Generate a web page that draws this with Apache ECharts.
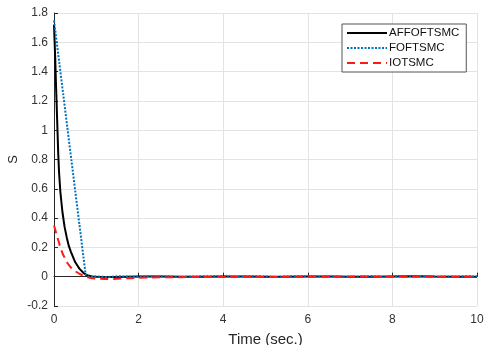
<!DOCTYPE html>
<html>
<head>
<meta charset="utf-8">
<script src="https://cdn.jsdelivr.net/npm/echarts@6/dist/echarts.min.js"></script>
<style>
  html, body { margin: 0; padding: 0; background: #fff; }
  #chart { width: 484px; height: 345px; }
</style>
</head>
<body>
<div id="chart"></div>
<script>
// Sliding variable S over time for three controllers
const seriesNames = ['AFFOFTSMC', 'FOFTSMC', 'IOTSMC'];

const affTime = [0, 0.015, 0.03, 0.045, 0.06, 0.08, 0.1, 0.12, 0.15, 0.2, 0.25, 0.3, 0.35, 0.4, 0.5, 0.6, 0.7, 0.8, 0.9, 1.0,
  1.5, 2.0, 2.5, 3.0, 3.5, 4.0, 4.5, 5.0, 5.5, 6.0, 6.5, 7.0, 7.5, 8.0, 8.5, 9.0, 9.5, 10.0];
const affValues = [1.72, 1.6, 1.48, 1.33, 1.2, 1.02, 0.84, 0.71, 0.58, 0.44, 0.34, 0.27, 0.21, 0.17, 0.1, 0.055, 0.025, 0.008, 0.002, 0.0,
  -0.002, 0.001, 0.002, 0.0, -0.001, 0.002, 0.001, -0.001, 0.0, 0.002, 0.001, -0.001, 0.0, 0.002, 0.003, 0.001, 0.0, 0.0];

const fofTime = [0, 0.75, 0.8, 1.0, 1.25, 1.5, 1.75, 2.0, 2.25, 2.5, 2.75, 3.0, 3.25, 3.5, 3.75, 4.0, 4.25, 4.5, 4.75, 5.0,
  5.25, 5.5, 5.75, 6.0, 6.25, 6.5, 6.75, 7.0, 7.25, 7.5, 7.75, 8.0, 8.25, 8.5, 8.75, 9.0, 9.25, 9.5, 9.75, 10.0];
const fofValues = [1.75, 0.01, 0.0, 0.002, -0.002, 0.003, 0.001, -0.001, 0.004, 0.003, 0.002, -0.002, 0.001, 0.003, 0.002, 0.004, -0.001, 0.002, 0.004, 0.001,
  -0.002, 0.002, 0.003, 0.004, -0.001, 0.002, 0.001, -0.003, 0.002, 0.004, -0.001, 0.002, 0.005, 0.004, 0.003, -0.001, 0.002, 0.001, 0.003, 0.001];

const iotTime = [0, 0.05, 0.1, 0.15, 0.2, 0.25, 0.3, 0.35, 0.4, 0.5, 0.6, 0.7, 0.8, 0.9, 1.0, 1.2, 1.4, 1.6, 1.8, 2.0,
  2.5, 3.0, 3.5, 4.0, 4.5, 5.0, 5.5, 6.0, 6.5, 7.0, 7.5, 8.0, 8.5, 9.0, 9.5, 10.0];
const iotValues = [0.35, 0.3, 0.25, 0.2, 0.16, 0.13, 0.1, 0.08, 0.062, 0.038, 0.02, 0.006, -0.004, -0.01, -0.013, -0.015, -0.015, -0.013, -0.01, -0.007,
  -0.004, -0.003, -0.002, -0.002, -0.001, -0.002, -0.001, 0.0, -0.001, 0.001, 0.0, -0.001, 0.001, 0.0, -0.001, 0.0];

const xTicks = { min: 0, max: 10, interval: 2 };
const yTicks = { min: -0.2, max: 1.8, interval: 0.2 };

const pairs = (ts, vs) => ts.map((t, i) => [t, vs[i]]);

const axisColor = '#262626';
const gridColor = '#e3e3e3';
const font = 'Liberation Sans, Arial, Helvetica, sans-serif';

const chart = echarts.init(document.getElementById('chart'), null, { renderer: 'canvas' });
chart.setOption({
  animation: false,
  backgroundColor: '#fff',
  grid: { left: 54, right: 7, top: 13, bottom: 39, containLabel: false, outerBoundsMode: 'none' },
  legend: {
    orient: 'vertical',
    left: 342,
    top: 24,
    itemWidth: 40,
    itemHeight: 10,
    itemGap: 3,
    padding: [3, 7, 3, 4],
    backgroundColor: '#fff',
    borderColor: '#555',
    borderWidth: 1,
    itemStyle: { opacity: 0 },
    textStyle: { fontFamily: font, fontSize: 11.5, color: '#111', padding: [0, 0, 0, -3] },
    data: seriesNames
  },
  xAxis: {
    type: 'value',
    min: xTicks.min, max: xTicks.max, interval: xTicks.interval,
    name: 'Time (sec.)',
    nameLocation: 'middle',
    nameGap: 26,
    nameTextStyle: { fontFamily: font, fontSize: 15, color: axisColor },
    axisLine: { lineStyle: { color: axisColor, width: 1 } },
    axisTick: { inside: true, length: 4, lineStyle: { color: axisColor } },
    axisLabel: { fontFamily: font, fontSize: 12, color: '#333', margin: 8 },
    splitLine: { show: true, lineStyle: { color: gridColor, width: 1 } }
  },
  yAxis: {
    type: 'value',
    min: yTicks.min, max: yTicks.max, interval: yTicks.interval,
    name: 'S',
    nameLocation: 'middle',
    nameGap: 34,
    nameMoveOverlap: false,
    nameRotate: 90,
    nameTextStyle: { fontFamily: font, fontSize: 13, color: axisColor },
    axisLine: { show: true, lineStyle: { color: axisColor, width: 1 } },
    axisTick: { show: true, inside: true, length: 4, lineStyle: { color: axisColor } },
    axisLabel: {
      fontFamily: font, fontSize: 12, color: '#333', margin: 6,
      formatter: v => String(Math.round(v * 10) / 10)
    },
    splitLine: { show: true, lineStyle: { color: gridColor, width: 1 } }
  },
  series: [
    {
      name: seriesNames[0], type: 'line', symbol: 'none', z: 3,
      data: pairs(affTime, affValues),
      lineStyle: { color: '#000', width: 2 },
      itemStyle: { color: '#000' }
    },
    {
      name: seriesNames[1], type: 'line', symbol: 'none', z: 4,
      data: pairs(fofTime, fofValues),
      lineStyle: { color: '#0072BD', width: 2, type: [2, 1.5] },
      itemStyle: { color: '#0072BD' }
    },
    {
      name: seriesNames[2], type: 'line', symbol: 'none', z: 5,
      data: pairs(iotTime, iotValues),
      lineStyle: { color: '#FF1A1A', width: 2, type: [8, 5] },
      itemStyle: { color: '#FF1A1A' }
    }
  ]
});
</script>
</body>
</html>
